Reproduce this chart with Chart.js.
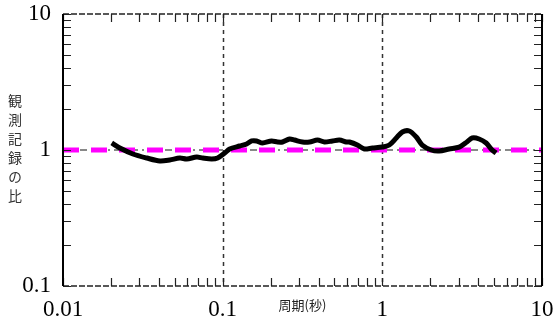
<!DOCTYPE html>
<html lang="ja">
<head>
<meta charset="UTF-8">
<title>観測記録の比</title>
<style>
  body { margin: 0; background: #fff; }
  .container { position: relative; width: 554px; height: 320px; }
  #ytitle {
    position: absolute; left: 7px; top: 94px;
    writing-mode: vertical-rl; text-orientation: upright;
    font-family: "Noto Sans CJK JP", sans-serif; font-size: 14px;
    letter-spacing: 5px; color: #333; line-height: 16px;
  }
</style>
</head>
<body>
<div class="container">
  <canvas id="chart"></canvas>
  <div id="ytitle">観測記録の比</div>
</div>
<script src="https://cdn.jsdelivr.net/npm/chart.js"></script>
<script>
// period (s) and ratio
const periods = [0.0202, 0.0227, 0.0274, 0.0335, 0.0404, 0.0466, 0.0539, 0.0596, 0.0688, 0.075,
  0.0853, 0.093, 0.103, 0.1106, 0.1277, 0.1413, 0.1518, 0.1631, 0.1778, 0.2024,
  0.2206, 0.2371, 0.2623, 0.2818, 0.3162, 0.3499, 0.3926, 0.434, 0.487, 0.5383,
  0.5957, 0.622, 0.698, 0.772, 0.866, 1.0, 1.106, 1.223, 1.334, 1.475,
  1.632, 1.778, 2.024, 2.27, 2.623, 3.03, 3.4, 3.65, 4.04, 4.47, 4.87, 5.16];
const ratios = [1.126, 1.034, 0.935, 0.873, 0.830, 0.844, 0.873, 0.859, 0.888, 0.873,
  0.859, 0.873, 0.95, 1.017, 1.07, 1.107, 1.165, 1.165, 1.126, 1.165,
  1.145, 1.145, 1.205, 1.184, 1.145, 1.145, 1.184, 1.145, 1.165, 1.184,
  1.145, 1.145, 1.088, 1.017, 1.034, 1.052, 1.088, 1.225, 1.357, 1.379,
  1.246, 1.088, 1.0, 0.983, 1.017, 1.05, 1.15, 1.225, 1.205, 1.126, 1.0, 0.95];
const refX = [0.01, 10];
const refY = [1, 1];
const xTickLabels = [0.01, 0.1, 1, 10];
const yTickLabels = [0.1, 1, 10];
const xGridAt = [0.1, 1];
const yGridAt = [1];

function minorTicks(lo, hi) {
  const out = [];
  for (let d = lo; d < hi; d *= 10) {
    for (let k = 1; k < 10; k++) out.push(+(k * d).toPrecision(3));
  }
  out.push(hi);
  return out;
}

const frame = {
  id: "frame",
  beforeDatasetsDraw(chart) {
    const { ctx, chartArea: a, scales: { x, y } } = chart;
    ctx.save();
    ctx.lineWidth = 1.5;
    ctx.strokeStyle = "#333";
    ctx.setLineDash([4, 4]);
    xGridAt.forEach(v => {
      const px = Math.round(x.getPixelForValue(v)) + 0.5;
      ctx.beginPath(); ctx.moveTo(px, a.top); ctx.lineTo(px, a.bottom); ctx.stroke();
    });
    ctx.strokeStyle = "#888";
    ctx.lineWidth = 2;
    ctx.setLineDash([7, 4, 2, 4]);
    yGridAt.forEach(v => {
      const py = Math.round(y.getPixelForValue(v));
      ctx.beginPath(); ctx.moveTo(a.left, py); ctx.lineTo(a.right, py); ctx.stroke();
    });
    ctx.restore();
  },
  afterDatasetsDraw(chart) {
    const { ctx, chartArea: a, scales: { x, y } } = chart;
    const len = 8;
    ctx.save();
    ctx.strokeStyle = "#222";
    ctx.lineWidth = 1.2;
    minorTicks(0.01, 10).forEach(v => {
      const px = Math.round(x.getPixelForValue(v)) + 0.5;
      ctx.beginPath();
      ctx.moveTo(px, a.bottom); ctx.lineTo(px, a.bottom - len);
      ctx.moveTo(px, a.top); ctx.lineTo(px, a.top + len);
      ctx.stroke();
    });
    minorTicks(0.1, 10).forEach(v => {
      const py = Math.round(y.getPixelForValue(v)) + 0.5;
      ctx.beginPath();
      ctx.moveTo(a.left, py); ctx.lineTo(a.left + len, py);
      ctx.moveTo(a.right, py); ctx.lineTo(a.right - len, py);
      ctx.stroke();
    });
    // frame
    ctx.lineWidth = 1.5;
    ctx.setLineDash([6, 2]);
    ctx.beginPath();
    ctx.moveTo(a.left, a.top); ctx.lineTo(a.right, a.top);
    ctx.moveTo(a.left, a.bottom); ctx.lineTo(a.right, a.bottom);
    ctx.stroke();
    ctx.setLineDash([]);
    ctx.strokeStyle = "#000";
    ctx.lineWidth = 2;
    ctx.beginPath();
    ctx.moveTo(a.left, a.top); ctx.lineTo(a.left, a.bottom);
    ctx.moveTo(a.right, a.top); ctx.lineTo(a.right, a.bottom);
    ctx.stroke();
    ctx.restore();
  }
};

const tickFont = { family: "'Times New Roman', 'Liberation Serif', serif", size: 23 };

function noPad(s) {
  s.paddingTop = 0; s.paddingBottom = 0; s.paddingLeft = 0; s.paddingRight = 0;
}

new Chart(document.getElementById("chart"), {
  type: "line",
  data: {
    datasets: [
      {
        data: periods.map((p, i) => ({ x: p, y: ratios[i] })),
        borderColor: "#000",
        borderWidth: 5,
        pointRadius: 0,
        tension: 0.3,
        borderJoinStyle: "round"
      },
      {
        data: refX.map((p, i) => ({ x: p, y: refY[i] })),
        borderColor: "#ff00ff",
        borderWidth: 5,
        borderDash: [16, 12],
        pointRadius: 0
      }
    ]
  },
  options: {
    responsive: true,
    maintainAspectRatio: false,
    animation: false,
    layout: { padding: { top: 14, right: 12, left: 0, bottom: 0 } },
    plugins: { legend: { display: false }, tooltip: { enabled: false } },
    scales: {
      x: {
        type: "logarithmic",
        min: 0.01, max: 10,
        afterBuildTicks: s => { s.ticks = xTickLabels.map(v => ({ value: v })); },
        afterFit: s => { s.height = 34; noPad(s); },
        grid: { display: false, drawTicks: false },
        border: { display: false },
        ticks: {
          autoSkip: false, maxRotation: 0, padding: 10,
          color: "#000", font: tickFont,
          callback: v => String(v)
        },
        title: {
          display: true, text: "周期(秒)", color: "#222",
          font: { family: "'Noto Sans CJK JP', sans-serif", size: 13 },
          padding: { top: 0, bottom: 7 }
        }
      },
      y: {
        type: "logarithmic",
        min: 0.1, max: 10,
        afterBuildTicks: s => { s.ticks = yTickLabels.map(v => ({ value: v })); },
        afterFit: s => { s.width = 63; noPad(s); },
        grid: { display: false, drawTicks: false },
        border: { display: false },
        ticks: {
          autoSkip: false, padding: 12,
          color: "#000", font: tickFont,
          callback: v => String(v)
        }
      }
    }
  },
  plugins: [frame]
});
</script>
</body>
</html>
